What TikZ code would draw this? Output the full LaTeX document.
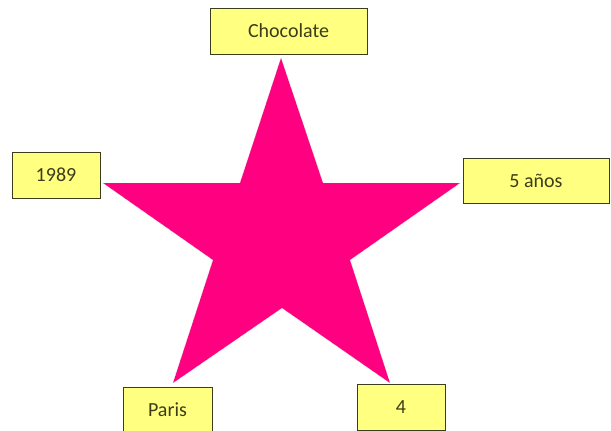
\documentclass[tikz,border=0pt]{standalone}
\usepackage{fontspec}
\setmainfont{Carlito}
\definecolor{starpink}{RGB}{255,0,128}
\definecolor{boxyellow}{RGB}{255,255,128}
\definecolor{boxedge}{RGB}{60,60,30}
\definecolor{labelink}{RGB}{60,60,25}
\tikzset{
  labelbox/.style={rectangle, draw=boxedge, thin, fill=boxyellow,
                   text=labelink, inner sep=0pt, minimum width=#1,
                   minimum height=46pt, font=\fontsize{20}{24}\selectfont},
  starfill/.style={fill=starpink, draw=gray!55, densely dotted, thin},
}
\begin{document}
\begin{tikzpicture}[x=1pt, y=-1pt]
  \useasboundingbox (0,0) rectangle (611,431);
  \clip (0,0) rectangle (611,431);
  % star points
  \coordinate (top) at (281,58);
  \coordinate (right) at (460,183);
  \coordinate (lowright) at (390,383);
  \coordinate (lowleft) at (173,383);
  \coordinate (left) at (103,183);
  % star
  \draw[starfill] (top) -- (323,183) -- (right) -- (350,260) -- (lowright)
        -- (282,308) -- (lowleft) -- (213,260) -- (left) -- (240,183) -- cycle;
  % boxes
  \node[labelbox=157pt] (choco) at (288.5,31) {Chocolate};
  \node[labelbox=88pt] (year) at (56,175) {1989};
  \node[labelbox=146pt, minimum height=45pt] (years) at (536,180.5) {5 años};
  \node[labelbox=89pt, text depth=0pt] (paris) at (167.5,410) {Paris};
  \node[labelbox=88pt] (four) at (401,407) {4};
\end{tikzpicture}
\end{document}
